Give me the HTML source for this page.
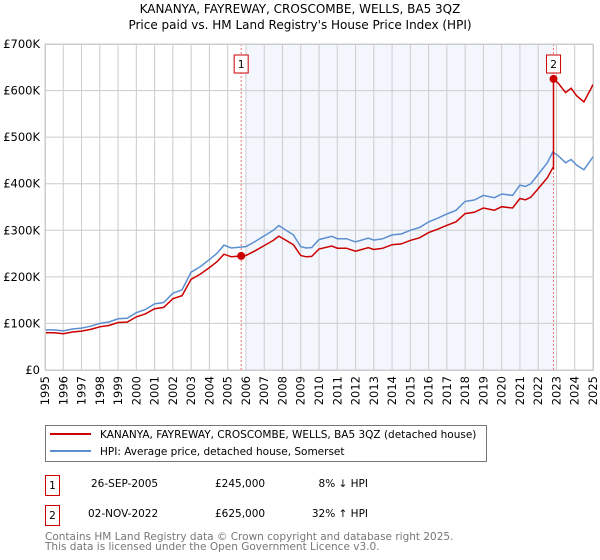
<!DOCTYPE html>
<html><head><meta charset="utf-8"><style>
body{margin:0;background:#fff;width:600px;height:560px;overflow:hidden;font-family:"DejaVu Sans","Liberation Sans",sans-serif}
svg{position:absolute;left:0;top:0}
</style></head><body>
<svg width="600" height="560" font-family="DejaVu Sans, Liberation Sans, sans-serif">
<text x="300" y="13" text-anchor="middle" font-size="12">KANANYA, FAYREWAY, CROSCOMBE, WELLS, BA5 3QZ</text>
<text x="300" y="29" text-anchor="middle" font-size="12">Price paid vs. HM Land Registry's House Price Index (HPI)</text>
<g id="plot"></g>
<g id="legend">
<rect x="45.5" y="425.5" width="441" height="36" fill="#fff" stroke="#777"/>
<line x1="50" y1="434" x2="91" y2="434" stroke="#cc0000" stroke-width="2"/>
<text x="100" y="438" font-size="10.5">KANANYA, FAYREWAY, CROSCOMBE, WELLS, BA5 3QZ (detached house)</text>
<line x1="50" y1="451" x2="91" y2="451" stroke="#5b8fd0" stroke-width="2"/>
<text x="100" y="455" font-size="10.5">HPI: Average price, detached house, Somerset</text>
</g>
<g font-size="10.5">
<rect x="45.5" y="475.5" width="14" height="20" fill="none" stroke="#c00"/>
<text x="52.5" y="489" text-anchor="middle">1</text>
<text x="91" y="487">26-SEP-2005</text>
<text x="215" y="487">£245,000</text>
<text x="368" y="487" text-anchor="end">8% ↓ HPI</text>
<rect x="45.5" y="505.5" width="14" height="20" fill="none" stroke="#c00"/>
<text x="52.5" y="519" text-anchor="middle">2</text>
<text x="88" y="517">02-NOV-2022</text>
<text x="215" y="517">£625,000</text>
<text x="368" y="517" text-anchor="end">32% ↑ HPI</text>
</g>
<text x="45" y="540" font-size="10.5" fill="#777">Contains HM Land Registry data © Crown copyright and database right 2025.</text>
<text x="45" y="550" font-size="10.5" fill="#777">This data is licensed under the Open Government Licence v3.0.</text>
</svg>
<script>
const hpiYears=[1995,1995.5,1996,1996.5,1997,1997.5,1998,1998.5,1999,1999.5,2000,2000.5,2001,2001.5,2002,2002.5,2003,2003.5,2004,2004.4,2004.8,2005.2,2005.7,2006,2006.5,2007,2007.5,2007.8,2008.2,2008.6,2009,2009.3,2009.6,2010,2010.7,2011,2011.5,2012,2012.7,2013,2013.5,2014,2014.5,2015,2015.5,2016,2016.5,2017,2017.5,2018,2018.5,2019,2019.6,2020,2020.6,2021,2021.3,2021.6,2022,2022.5,2022.8,2023.1,2023.5,2023.8,2024.1,2024.5,2024.9,2025];
const hpiValues=[86,86,84,88,90,94,100,103,110,111,123,130,142,145,165,172,210,222,237,250,268,262,264,265,276,288,300,310,300,290,265,262,263,280,287,282,282,275,283,279,282,290,292,300,306,318,326,335,343,362,365,375,370,378,375,397,394,400,420,445,468,460,445,452,440,430,452,458];
const saleYears=[2005.74,2022.84];
const salePrices=[245,625];
const yTicks=[0,100,200,300,400,500,600,700];
const yTickLabels=["£0","£100K","£200K","£300K","£400K","£500K","£600K","£700K"];
const xTicks=[1995,1996,1997,1998,1999,2000,2001,2002,2003,2004,2005,2006,2007,2008,2009,2010,2011,2012,2013,2014,2015,2016,2017,2018,2019,2020,2021,2022,2023,2024,2025];

const X0=45,X1=593,Y0=370,Y1=44;
const sx=y=>X0+(y-1995)/30*(X1-X0);
const sy=v=>Y0-v/700*(Y0-Y1);
const NS="http://www.w3.org/2000/svg";
const g=document.getElementById('plot');
function mk(t,a,p){const e=document.createElementNS(NS,t);for(const k in a)e.setAttribute(k,a[k]);(p||g).appendChild(e);return e;}
function hpiAt(t){for(let i=0;i<hpiYears.length-1;i++){if(t<=hpiYears[i+1]){const f=(t-hpiYears[i])/(hpiYears[i+1]-hpiYears[i]);return hpiValues[i]+f*(hpiValues[i+1]-hpiValues[i]);}}return hpiValues[hpiValues.length-1];}

let e=mk('rect',{x:sx(2006),y:Y1,width:sx(saleYears[1])-sx(2006),height:Y0-Y1,fill:'#eef2fc',opacity:0.7});


xTicks.forEach(t=>{
 let l=mk('line',{x1:sx(t),x2:sx(t),y1:Y1,y2:Y0,stroke:'#ccc','stroke-width':1});
 
 
 let tx=mk('text',{x:0,y:0,'font-size':11.5,'text-anchor':'end',transform:`translate(${sx(t)+4},${Y0+6}) rotate(-90)`});
 tx.textContent=t;
 
 
});
yTicks.forEach((v,i)=>{
 let l=mk('line',{x1:X0,x2:X1,y1:sy(v),y2:sy(v),stroke:'#ccc','stroke-width':1});
 
 
 let tx=mk('text',{x:X0-5,y:sy(v)+4,'font-size':11.5,'text-anchor':'end'});
 tx.textContent=yTickLabels[i];
 
 
});
// sale dashed lines & badges
saleYears.forEach((t,i)=>{
 let l=mk('line',{x1:sx(t),x2:sx(t),y1:Y1,y2:Y0,stroke:'#f07070','stroke-width':1,'stroke-dasharray':'2,2'});
 
 
 let r=mk('rect',{x:sx(t)-7,y:55,width:14,height:18,fill:'#fff',stroke:'#c00'});
 
 
 let tx=mk('text',{x:sx(t),y:68,'font-size':10.5,'text-anchor':'middle'});
 tx.textContent=i+1;
 
 
});
// HPI line
let d='';hpiYears.forEach((t,i)=>{d+=(i?'L':'M')+sx(t).toFixed(1)+','+sy(hpiValues[i]).toFixed(1);});
e=mk('path',{d:d,fill:'none',stroke:'#5b8fd0','stroke-width':1.5});


// property line: HPI scaled by most recent sale
const f1=salePrices[0]/hpiAt(saleYears[0]),f2=salePrices[1]/hpiAt(saleYears[1]);
const pts=[];
hpiYears.forEach((t,i)=>{if(t<saleYears[1])pts.push([t,hpiValues[i]*(t<saleYears[0]?f1:f1)]);});
pts.push([saleYears[1],hpiAt(saleYears[1])*f1]);
pts.push([saleYears[1],salePrices[1]]);
hpiYears.forEach((t,i)=>{if(t>saleYears[1])pts.push([t,hpiValues[i]*f2]);});
d='';pts.forEach((p,i)=>{d+=(i?'L':'M')+sx(p[0]).toFixed(1)+','+sy(p[1]).toFixed(1);});
e=mk('path',{d:d,fill:'none',stroke:'#cc0000','stroke-width':1.5});


saleYears.forEach((t,i)=>{
 let c=mk('circle',{cx:sx(t),cy:sy(salePrices[i]),r:4,fill:'#cc0000'});
 
 
});
e=mk('rect',{x:X0+0.5,y:Y1+0.5,width:X1-X0,height:Y0-Y1,fill:'none',stroke:'#ccc'});


</script>
</body></html>
